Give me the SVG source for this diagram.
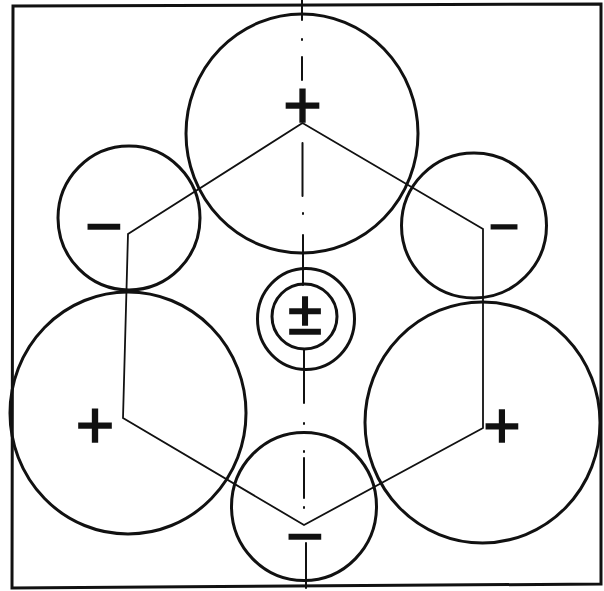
<svg xmlns="http://www.w3.org/2000/svg" width="604" height="591" viewBox="0 0 604 591">
<style>
.c{fill:none;stroke:#111;stroke-width:3}
.h{fill:none;stroke:#111;stroke-width:1.8;stroke-linejoin:miter}
.a{fill:none;stroke:#111;stroke-width:2;stroke-linecap:round}
.s{font-family:"Liberation Sans",Arial,sans-serif;fill:#111;stroke:#111;stroke-width:1.6;text-anchor:middle}
</style>
<rect width="604" height="591" fill="#fff"/>
<polygon id="frame" points="13,6 601,4 601,584 12,588" class="c"/>
<g id="connectors">
<path class="h" d="M302.5,123 L128,234 L123,418 L304,525 L483,428 L483,229 Z"/>
<path class="a" d="M302,0 V20 M302,39 V40 M302,57 V80 M302.5,143 V196 M303,213 V214 M303,235 V285 M304,349 V403 M304,423 V424 M304,451 V452 M304,458 V498 M304,507 V508 M306,543 V588"/>
</g>
<g id="top"><ellipse class="c" cx="302" cy="133.5" rx="116" ry="119.5"/><text class="s" x="302.5" y="128" font-size="66">+</text></g>
<g id="upper-left"><ellipse class="c" cx="129" cy="218" rx="71" ry="72"/><text class="s" x="104" y="248" font-size="64">−</text></g>
<g id="upper-right"><ellipse class="c" cx="474" cy="225.5" rx="72.5" ry="72.5"/><text class="s" x="504" y="244" font-size="52">−</text></g>
<g id="lower-left"><ellipse class="c" cx="128" cy="413" rx="118" ry="121"/><text class="s" x="95" y="448" font-size="66">+</text></g>
<g id="lower-right"><ellipse class="c" cx="482.5" cy="422.5" rx="117.5" ry="120.5"/><text class="s" x="502" y="448" font-size="64">+</text></g>
<g id="bottom"><ellipse class="c" cx="304" cy="506.5" rx="72.5" ry="74"/><text class="s" x="305" y="558" font-size="64">−</text></g>
<g id="center"><ellipse class="c" cx="306" cy="319" rx="48.5" ry="50.5"/><circle class="c" cx="304.5" cy="316.5" r="32.5"/><text class="s" x="305" y="334" font-size="62">±</text></g>
</svg>
